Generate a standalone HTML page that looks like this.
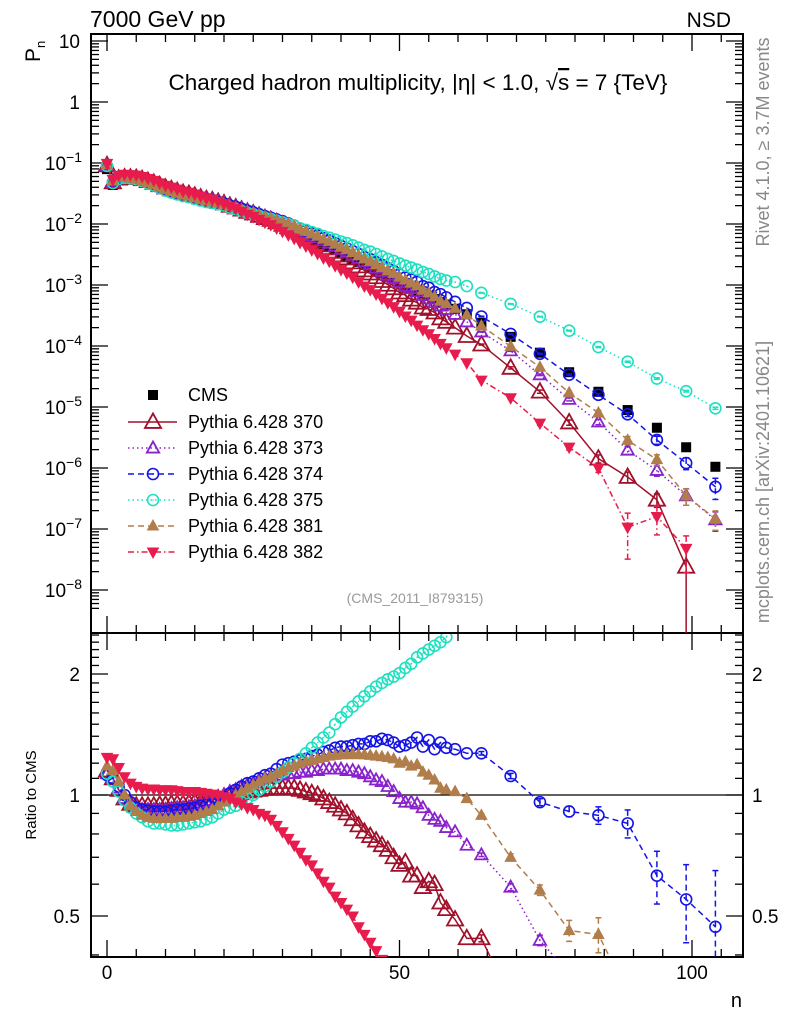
<!DOCTYPE html>
<html><head><meta charset="utf-8">
<style>
html,body{margin:0;padding:0;background:#fff;width:786px;height:1024px;overflow:hidden;}
svg{display:block;font-family:"Liberation Sans",sans-serif;}
</style></head>
<body>
<svg id="chart" width="786" height="1024" viewBox="0 0 786 1024" xmlns="http://www.w3.org/2000/svg">
<defs>
<clipPath id="clipMain"><rect x="91" y="34" width="652" height="599"/></clipPath>
<clipPath id="clipRatio"><rect x="91" y="634" width="652" height="323"/></clipPath>
</defs>
<rect x="0" y="0" width="786" height="1024" fill="#fff"/>
<text x="90" y="27" font-size="23">7000 GeV pp</text>
<text x="731" y="27" font-size="21" text-anchor="end">NSD</text>
<text x="418" y="90" font-size="22.5" text-anchor="middle">Charged hadron multiplicity, |η| &lt; 1.0, √<tspan text-decoration="overline">s</tspan> = 7 {TeV}</text>
<text transform="translate(40,62) rotate(-90)" font-size="21">P<tspan font-size="13" dy="5">n</tspan></text>
<text transform="translate(36,795) rotate(-90)" font-size="15" text-anchor="middle">Ratio to CMS</text>
<text x="742" y="1007" font-size="20" text-anchor="end">n</text>
<text transform="translate(769,142) rotate(-90)" font-size="18" fill="#888" text-anchor="middle">Rivet 4.1.0, ≥ 3.7M events</text>
<text transform="translate(769,482) rotate(-90)" font-size="18" fill="#888" text-anchor="middle">mcplots.cern.ch [arXiv:2401.10621]</text>
<text x="415" y="603" font-size="14" fill="#999" text-anchor="middle">(CMS_2011_I879315)</text>
<g id="axes"></g>
<g id="mainMarks" clip-path="url(#clipMain)"></g>
<g id="ratioMarks" clip-path="url(#clipRatio)"></g>
<g id="legend"></g>
</svg>
<script>
// ---- data ----
const nBins = [0,1,2,3,4,5,6,7,8,9,10,11,12,13,14,15,16,17,18,19,20,21,22,23,24,25,26,27,28,29,30,31,32,33,34,35,36,37,38,39,40,41,42,43,44,45,46,47,48,49,50,51,52,53,54,55,56,57,58,59.5,61.5,64,69,74,79,84,89,94,99,104];
const cmsLog10 = [-1.10,-1.36,-1.27,-1.23,-1.22,-1.22,-1.24,-1.27,-1.30,-1.34,-1.38,-1.41,-1.44,-1.47,-1.49,-1.52,-1.55,-1.58,-1.60,-1.63,-1.66,-1.70,-1.73,-1.77,-1.81,-1.84,-1.88,-1.92,-1.95,-1.99,-2.03,-2.07,-2.11,-2.16,-2.20,-2.25,-2.29,-2.34,-2.38,-2.43,-2.48,-2.52,-2.57,-2.62,-2.67,-2.71,-2.76,-2.81,-2.86,-2.90,-2.95,-3.00,-3.04,-3.09,-3.14,-3.18,-3.23,-3.28,-3.32,-3.39,-3.48,-3.62,-3.85,-4.11,-4.43,-4.75,-5.05,-5.34,-5.66,-5.98];
const ratio370 = [1.15,1.10,1.03,0.98,0.95,0.94,0.94,0.94,0.94,0.945,0.945,0.95,0.95,0.95,0.955,0.96,0.96,0.965,0.97,0.98,0.99,0.995,1.00,1.01,1.02,1.025,1.03,1.035,1.04,1.04,1.04,1.04,1.04,1.03,1.02,1.01,1.00,0.98,0.96,0.94,0.92,0.90,0.87,0.84,0.81,0.79,0.77,0.75,0.73,0.70,0.67,0.68,0.63,0.63,0.59,0.61,0.60,0.54,0.52,0.49,0.44,0.44,0.31,0.23,0.15,0.08,0.08,0.066,0.011,null];
const ratio373 = [1.13,1.10,1.04,0.98,0.95,0.93,0.92,0.92,0.92,0.92,0.92,0.925,0.93,0.93,0.935,0.94,0.95,0.96,0.97,0.985,1.00,1.02,1.03,1.05,1.06,1.07,1.09,1.10,1.11,1.12,1.12,1.13,1.13,1.14,1.14,1.15,1.15,1.16,1.16,1.16,1.16,1.15,1.15,1.14,1.13,1.11,1.09,1.08,1.05,1.02,0.98,0.96,0.96,0.95,0.93,0.89,0.87,0.86,0.83,0.81,0.75,0.71,0.59,0.435,0.36,0.32,0.22,0.20,0.16,0.135];
const ratio374 = [1.12,1.10,1.05,1.00,0.96,0.93,0.92,0.915,0.91,0.91,0.91,0.915,0.92,0.92,0.925,0.93,0.94,0.945,0.95,0.97,0.99,1.01,1.03,1.05,1.07,1.08,1.10,1.12,1.13,1.16,1.19,1.20,1.21,1.22,1.23,1.25,1.26,1.28,1.29,1.31,1.32,1.32,1.33,1.34,1.34,1.36,1.36,1.38,1.37,1.35,1.32,1.33,1.35,1.39,1.32,1.37,1.30,1.35,1.31,1.30,1.27,1.27,1.115,0.96,0.91,0.89,0.85,0.63,0.55,0.47];
const ratio375 = [1.13,1.08,1.02,0.97,0.93,0.90,0.88,0.86,0.85,0.85,0.845,0.84,0.84,0.845,0.85,0.855,0.86,0.87,0.88,0.90,0.92,0.93,0.94,0.96,0.98,1.00,1.03,1.05,1.08,1.11,1.14,1.17,1.20,1.23,1.27,1.31,1.35,1.39,1.43,1.50,1.56,1.61,1.66,1.71,1.76,1.81,1.86,1.90,1.94,1.97,2.01,2.07,2.12,2.20,2.25,2.30,2.35,2.40,2.47,2.75,2.90,3.10,3.47,3.90,4.80,5.40,6.20,6.40,8.30,9.10];
const ratio381 = [1.18,1.15,1.08,1.00,0.94,0.91,0.89,0.88,0.875,0.875,0.875,0.875,0.88,0.88,0.885,0.89,0.90,0.91,0.92,0.94,0.96,0.98,1.00,1.02,1.04,1.06,1.08,1.10,1.11,1.13,1.15,1.17,1.18,1.20,1.21,1.22,1.23,1.24,1.25,1.255,1.26,1.26,1.265,1.26,1.26,1.255,1.25,1.245,1.24,1.23,1.20,1.21,1.18,1.19,1.14,1.12,1.09,1.04,1.03,1.02,0.98,0.89,0.70,0.58,0.46,0.45,0.32,0.30,0.16,0.14];
const ratio382 = [1.24,1.23,1.17,1.11,1.07,1.05,1.04,1.035,1.035,1.03,1.03,1.03,1.025,1.02,1.02,1.02,1.015,1.01,1.005,1.00,0.99,0.98,0.96,0.95,0.93,0.92,0.90,0.89,0.87,0.84,0.81,0.78,0.75,0.72,0.69,0.67,0.64,0.61,0.59,0.56,0.54,0.52,0.50,0.47,0.45,0.43,0.41,0.39,0.37,0.35,0.33,0.31,0.29,0.27,0.255,0.24,0.225,0.21,0.195,0.18,0.16,0.115,0.10,0.07,0.059,0.056,0.012,0.035,0.022,null];
// relative errors for the tail bins n = 64..104
const tailErr370 = [0.02,0.04,0.06,0.10,0.15,0.20,0.25,0.99,0];
const tailErr373 = [0.01,0.02,0.03,0.06,0.10,0.15,0.20,0.30,0.35];
const tailErr374 = [0.01,0.015,0.02,0.03,0.05,0.08,0.15,0.22,0.38];
const tailErr375 = [0.01,0.01,0.01,0.015,0.02,0.02,0.03,0.03,0.04];
const tailErr381 = [0.01,0.02,0.03,0.06,0.10,0.15,0.20,0.30,0.35];
const tailErr382 = [0.03,0.05,0.08,0.10,0.15,0.70,0.50,0.60,0];
const xTicks = [0,50,100];
const ratioTicks = [0.5,1,2];
const decadeTicks = [1,0,-1,-2,-3,-4,-5,-6,-7,-8];

// ---- scales ----
const X0=91,X1=743,MT=34,MB=633,RB=957;
const xS = n => 107 + 5.85*n;
const yMain = lg => 102 - 61*lg;
const yRatio = r => 795 - 402*Math.log10(r);
const NS="http://www.w3.org/2000/svg";
function mk(tag, attrs, parent){const e=document.createElementNS(NS,tag);for(const k in attrs)e.setAttribute(k,attrs[k]);parent.appendChild(e);return e;}
const axes=document.getElementById('axes');
const gMain=document.getElementById('mainMarks');
const gRatio=document.getElementById('ratioMarks');
const gLeg=document.getElementById('legend');

let fr=mk('rect',{x:X0,y:MT,width:X1-X0,height:MB-MT,fill:'none',stroke:'#000','stroke-width':2},axes);


let fr2=mk('rect',{x:X0,y:MB,width:X1-X0,height:RB-MB,fill:'none',stroke:'#000','stroke-width':2},axes);



for(let v=0;v<=105;v+=5){
  const x=xS(v); const maj=(v%50===0); const L=maj?17:8;
  for(const [y0,d] of [[MT,1],[MB,-1],[MB,1],[RB,-1]]){
    const t=mk('line',{x1:x,x2:x,y1:y0,y2:y0+d*L,stroke:'#000','stroke-width':1.3},axes);
    
    
  }
}
xTicks.forEach(v=>{
  const t=mk('text',{x:xS(v),y:979,'font-size':19,'text-anchor':'middle'},axes);t.textContent=String(v);
  
  
});
decadeTicks.forEach(d=>{
  for(let m=1;m<=9;m++){
    const lg=d+Math.log10(m); const y=yMain(lg);
    if(y<MT||y>MB) continue;
    const L=(m===1)?17:8;
    const a=mk('line',{x1:X0,x2:X0+L,y1:y,y2:y,stroke:'#000','stroke-width':1.3},axes);
    
    
    const b=mk('line',{x1:X1,x2:X1-L,y1:y,y2:y,stroke:'#000','stroke-width':1.3},axes);
    
    
  }
  const y=yMain(d);
  const t=mk('text',{x:80,y:y+7,'font-size':19,'text-anchor':'end'},axes);
  if(d===1) t.textContent='10'; else if(d===0) t.textContent='1';
  else { t.textContent='10'; const s=mk('tspan',{'font-size':14,dy:-8},t); s.textContent='−'+(-d); t.setAttribute('x',82); }
  
  
});
for(let m=5;m<=9;m++){const y=yMain(-9+Math.log10(m)); if(y<MB){
  const a=mk('line',{x1:X0,x2:X0+8,y1:y,y2:y,stroke:'#000','stroke-width':1.3},axes);
  
  
  const b=mk('line',{x1:X1,x2:X1-8,y1:y,y2:y,stroke:'#000','stroke-width':1.3},axes);
  
  }}
for(let k=4;k<=25;k++){
  const r=k/10; const y=yRatio(r); if(y<MB||y>RB) continue;
  const maj=(k===5||k===10||k===20); const L=maj?17:8;
  const a=mk('line',{x1:X0,x2:X0+L,y1:y,y2:y,stroke:'#000','stroke-width':1.3},axes);
  
  
  const b=mk('line',{x1:X1,x2:X1-L,y1:y,y2:y,stroke:'#000','stroke-width':1.3},axes);
  
  
}
ratioTicks.forEach(r=>{
  const y=yRatio(r)+7;
  const t=mk('text',{x:80,y:y,'font-size':19,'text-anchor':'end'},axes);t.textContent=String(r);
  
  
  const t2=mk('text',{x:752,y:y,'font-size':19},axes);t2.textContent=String(r);
  
  
});
const unity=mk('line',{x1:X0,x2:X1,y1:yRatio(1),y2:yRatio(1),stroke:'#000','stroke-width':1.3},gRatio);



function marker(g,type,color,x,y,size){
  let e;
  if(type==='square'){ e=mk('rect',{x:x-5,y:y-5,width:10,height:10,fill:color},g); }
  else if(type==='circle'){ e=mk('circle',{cx:x,cy:y,r:size,fill:'none',stroke:color,'stroke-width':1.6},g); mk('circle',{cx:x,cy:y,r:0.7,fill:color},g); }
  else if(type==='tri-open'){ const s=size; e=mk('polygon',{points:`${x},${y-s} ${x-s*0.95},${y+s*0.7} ${x+s*0.95},${y+s*0.7}`,fill:'none',stroke:color,'stroke-width':1.8},g); }
  else if(type==='tri-filled'){ const s=size; e=mk('polygon',{points:`${x},${y-s} ${x-s*0.9},${y+s*0.65} ${x+s*0.9},${y+s*0.65}`,fill:color},g); }
  else if(type==='tri-down'){ const s=size; e=mk('polygon',{points:`${x},${y+s} ${x-s*0.9},${y-s*0.65} ${x+s*0.9},${y-s*0.65}`,fill:color},g); }
  return e;
}
const series=[
 {name:'Pythia 6.428 370',key:'mc-370',ratio:ratio370,err:tailErr370,color:'#a0102a',type:'tri-open',size:8.5,dash:''},
 {name:'Pythia 6.428 373',key:'mc-373',ratio:ratio373,err:tailErr373,color:'#8a22cc',type:'tri-open',size:6.5,dash:'1.5,3'},
 {name:'Pythia 6.428 374',key:'mc-374',ratio:ratio374,err:tailErr374,color:'#1414e6',type:'circle',size:5.5,dash:'6,4'},
 {name:'Pythia 6.428 375',key:'mc-375',ratio:ratio375,err:tailErr375,color:'#1ee0c0',type:'circle',size:5.5,dash:'1.5,3'},
 {name:'Pythia 6.428 381',key:'mc-381',ratio:ratio381,err:tailErr381,color:'#b07d4b',type:'tri-filled',size:7,dash:'6,4'},
 {name:'Pythia 6.428 382',key:'mc-382',ratio:ratio382,err:tailErr382,color:'#e81c4c',type:'tri-down',size:7,dash:'6,3,1.5,3'}
];
const tailStart = nBins.length - 9;

const gC=mk('g',{},gMain);


nBins.forEach((n,i)=>{
  const m=marker(gC,'square','#000',xS(n),yMain(cmsLog10[i]));
  
  
});

series.forEach(s=>{
  const gm=mk('g',{},gMain);
  
  
  const gr=mk('g',{},gRatio);
  
  
  const ptsM=[],ptsR=[];
  nBins.forEach((n,i)=>{ const r=s.ratio[i]; if(r==null) return;
    const lg=cmsLog10[i]+Math.log10(r);
    ptsM.push([xS(n),yMain(lg),lg,i]); ptsR.push([xS(n),yRatio(r),r,i]); });
  const pl=mk('polyline',{points:ptsM.map(p=>p[0]+','+p[1]).join(' '),fill:'none',stroke:s.color,'stroke-width':1.5,'stroke-dasharray':s.dash},gm);
  
  
  const pr=mk('polyline',{points:ptsR.map(p=>p[0]+','+p[1]).join(' '),fill:'none',stroke:s.color,'stroke-width':1.5,'stroke-dasharray':s.dash},gr);
  
  
  [[ptsM,'main',gm],[ptsR,'ratio',gr]].forEach(([pts,kind,g])=>{
    pts.forEach(p=>{ const i=p[3]; if(i<tailStart) return; const e=s.err[i-tailStart]; if(!e) return;
      let y1,y2;
      if(kind==='main'){ y1=yMain(p[2]+Math.log10(1+e)); y2=e>=0.99?MB:yMain(p[2]+Math.log10(1-e)); }
      else { const r=p[2]; y1=yRatio(r*(1+e)); y2=e>=0.99?RB:yRatio(r*(1-e)); }
      const l=mk('line',{x1:p[0],x2:p[0],y1:y1,y2:y2,stroke:s.color,'stroke-width':1.5,'stroke-dasharray':s.dash},g);
      
      
      mk('line',{x1:p[0]-3,x2:p[0]+3,y1:y1,y2:y1,stroke:s.color,'stroke-width':1.5},g);
      if(e<0.99) mk('line',{x1:p[0]-3,x2:p[0]+3,y1:y2,y2:y2,stroke:s.color,'stroke-width':1.5},g);
    });
  });
  ptsM.forEach(p=>{ const m=marker(gm,s.type,s.color,p[0],p[1],s.size);
    
     });
  ptsR.forEach(p=>{ const m=marker(gr,s.type,s.color,p[0],p[1],s.size);
    
     });
});

const legY=[395,422,448,474,500,526,552];
const le0=mk('g',{},gLeg);


marker(le0,'square','#000',153,legY[0]);
const lt0=mk('text',{x:188,y:legY[0]+6,'font-size':18},le0); lt0.textContent='CMS';
series.forEach((s,k)=>{
  const y=legY[k+1];
  const g=mk('g',{},gLeg);
  
  
  mk('line',{x1:128,x2:177,y1:y,y2:y,stroke:s.color,'stroke-width':1.5,'stroke-dasharray':s.dash},g);
  marker(g,s.type,s.color,153,y,s.size);
  const t=mk('text',{x:188,y:y+6,'font-size':18},g); t.textContent=s.name;
});
</script>
</body></html>
